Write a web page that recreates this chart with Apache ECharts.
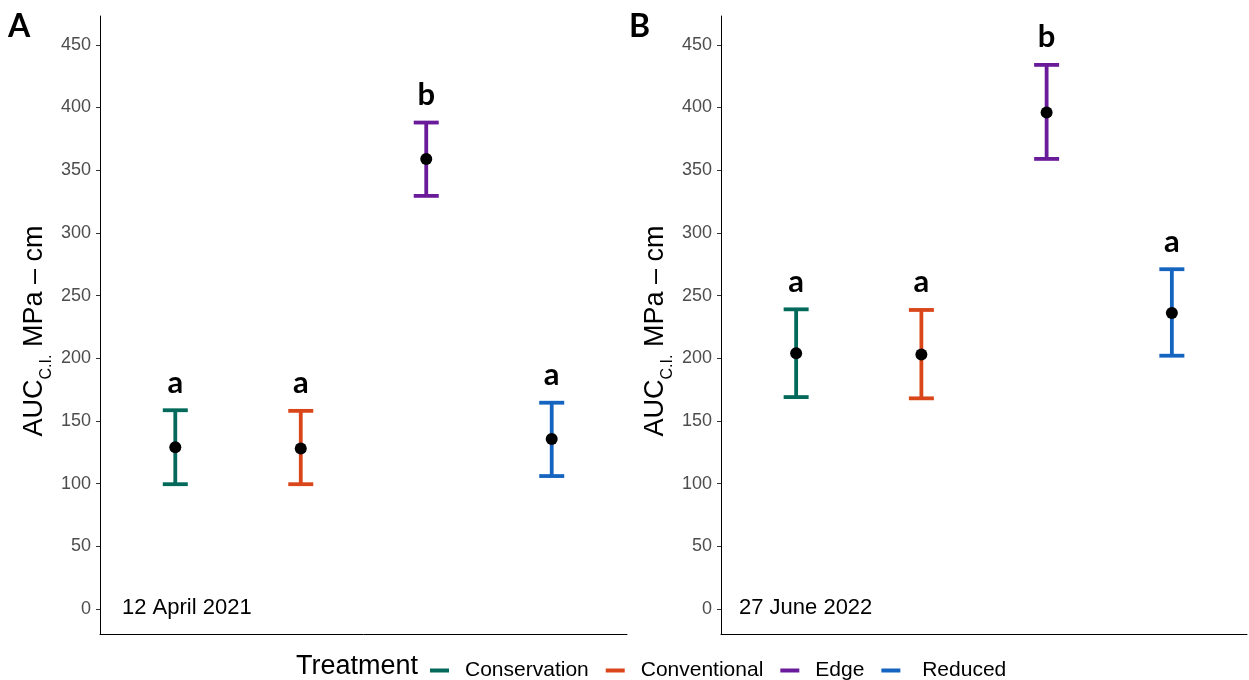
<!DOCTYPE html>
<html>
<head>
<meta charset="utf-8">
<script src="https://cdn.jsdelivr.net/npm/echarts@6/dist/echarts.min.js"></script>
<style>html,body{margin:0;padding:0;background:#fff}#c{width:1249px;height:680px}</style>
</head>
<body>
<div id="c"></div>
<script>
const categories = ['Conservation', 'Conventional', 'Edge', 'Reduced'];
const meanA  = [129, 128, 359, 135.5];
const upperA = [158.5, 158, 388, 164.5];
const lowerA = [99.5, 99.5, 329.5, 106];
const lettersA = ['a', 'a', 'b', 'a'];
const meanB  = [204, 203, 396, 236];
const upperB = [239, 238.5, 434, 271];
const lowerB = [169, 168, 359, 202];
const lettersB = ['a', 'a', 'b', 'a'];
const yTicks = [0, 50, 100, 150, 200, 250, 300, 350, 400, 450];
const panelLabels = ['A', 'B'];
const dateLabels = ['12 April 2021', '27 June 2022'];

const palette = ['#03695A', '#D9461A', '#6A1B9A', '#1565C0'];
const FONT = 'Liberation Sans, Arial, sans-serif';
const BOLDFONT = 'Lato, Open Sans, sans-serif';

const chart = echarts.init(document.getElementById('c'), null, {renderer: 'canvas'});

function errRender(params, api) {
  const x = api.value(0);
  const lo = api.coord([x, api.value(1)]);
  const hi = api.coord([x, api.value(2)]);
  const hw = 12.5;
  const style = {stroke: api.visual('color'), lineWidth: 3.8};
  return {
    type: 'group',
    children: [
      {type: 'line', shape: {x1: lo[0], y1: lo[1], x2: hi[0], y2: hi[1]}, style},
      {type: 'line', shape: {x1: hi[0] - hw, y1: hi[1], x2: hi[0] + hw, y2: hi[1]}, style},
      {type: 'line', shape: {x1: lo[0] - hw, y1: lo[1], x2: lo[0] + hw, y2: lo[1]}, style}
    ]
  };
}

const panels = [
  {mean: meanA, upper: upperA, lower: lowerA, letters: lettersA},
  {mean: meanB, upper: upperB, lower: lowerB, letters: lettersB}
];

const series = [];
panels.forEach((p, pi) => {
  categories.forEach((c, i) => {
    series.push({
      type: 'custom', name: c, xAxisIndex: pi, yAxisIndex: pi,
      itemStyle: {color: palette[i]},
      renderItem: errRender,
      data: [[i + 1, p.lower[i], p.upper[i]]],
      z: 2
    });
  });
  series.push({
    type: 'scatter', name: 'mean' + pi, xAxisIndex: pi, yAxisIndex: pi,
    symbolSize: 12, itemStyle: {color: '#000', opacity: 1}, z: 5,
    data: p.mean.map((m, i) => [i + 1, m])
  });
  series.push({
    type: 'scatter', name: 'letters' + pi, xAxisIndex: pi, yAxisIndex: pi,
    symbolSize: 0, z: 6, itemStyle: {opacity: 1},
    label: {show: true, position: 'top', distance: 12, formatter: d => d.data[2],
      fontFamily: BOLDFONT, fontWeight: 'bold', fontSize: 31, color: '#000', opacity: 1},
    data: p.upper.map((u, i) => [i + 1, u, p.letters[i]])
  });
});

const grids = [
  {left: 100, right: 622, top: 16, bottom: 46},
  {left: 721, right: 2, top: 16, bottom: 46}
];

const yAxisCommon = {
  type: 'value', min: -20, max: 473,
  splitLine: {show: false},
  axisLine: {show: true, lineStyle: {color: '#000', width: 1}},
  axisTick: {show: true, length: 4, customValues: yTicks, lineStyle: {color: '#333'}},
  axisLabel: {customValues: yTicks, color: '#4d4d4d', fontSize: 18, fontFamily: FONT, margin: 9},
  name: '{a|AUC}{s|C.I.}{a| MPa \u2013 cm}{e|}',
  nameLocation: 'middle', nameGap: 50, nameRotate: 90,
  nameTextStyle: {
    rich: {
      a: {fontSize: 27, fontFamily: FONT, color: '#000', lineHeight: 30, verticalAlign: 'middle'},
      s: {fontSize: 16, fontFamily: FONT, color: '#000', lineHeight: 30, verticalAlign: 'bottom', padding: [0, 0, -5, 0]},
      e: {width: 12, lineHeight: 30}
    }
  }
};

const xAxisCommon = {
  type: 'value', min: 0.4, max: 4.6,
  splitLine: {show: false},
  axisLine: {show: true, onZero: false, lineStyle: {color: '#000', width: 1}},
  axisTick: {show: false}, axisLabel: {show: false}
};

const option = {
  animation: false,
  backgroundColor: '#fff',
  grid: grids,
  xAxis: [Object.assign({gridIndex: 0}, xAxisCommon), Object.assign({gridIndex: 1}, xAxisCommon)],
  yAxis: [Object.assign({gridIndex: 0}, yAxisCommon), Object.assign({gridIndex: 1}, yAxisCommon)],
  title: [
    {text: panelLabels[0], left: 8, top: 11, textStyle: {fontFamily: BOLDFONT, fontWeight: 'bold', fontSize: 32, color: '#000'}, padding: 0},
    {text: panelLabels[1], left: 629, top: 11, textStyle: {fontFamily: BOLDFONT, fontWeight: 'bold', fontSize: 32, color: '#000'}, padding: 0},
    {text: dateLabels[0], left: 122, top: 597, textStyle: {fontFamily: FONT, fontWeight: 'normal', fontSize: 22, color: '#000'}, padding: 0},
    {text: dateLabels[1], left: 739, top: 597, textStyle: {fontFamily: FONT, fontWeight: 'normal', fontSize: 22, color: '#000'}, padding: 0},
    {text: 'Treatment', left: 296, top: 653, textStyle: {fontFamily: FONT, fontWeight: 'normal', fontSize: 27, color: '#000'}, padding: 0}
  ],
  legend: {
    data: categories.map((c, i) => ({name: c, itemStyle: {color: palette[i]}})),
    left: 425, top: 655, orient: 'horizontal',
    icon: 'rect', itemWidth: 19, itemHeight: 4, itemGap: 17,
    formatter: n => n === 'Reduced' ? ' ' + n : n,
    textStyle: {fontFamily: FONT, fontSize: 21, color: '#000', padding: [0, 0, 0, 11]},
    selectedMode: false
  },
  series
};
chart.setOption(option);
</script>
</body>
</html>
